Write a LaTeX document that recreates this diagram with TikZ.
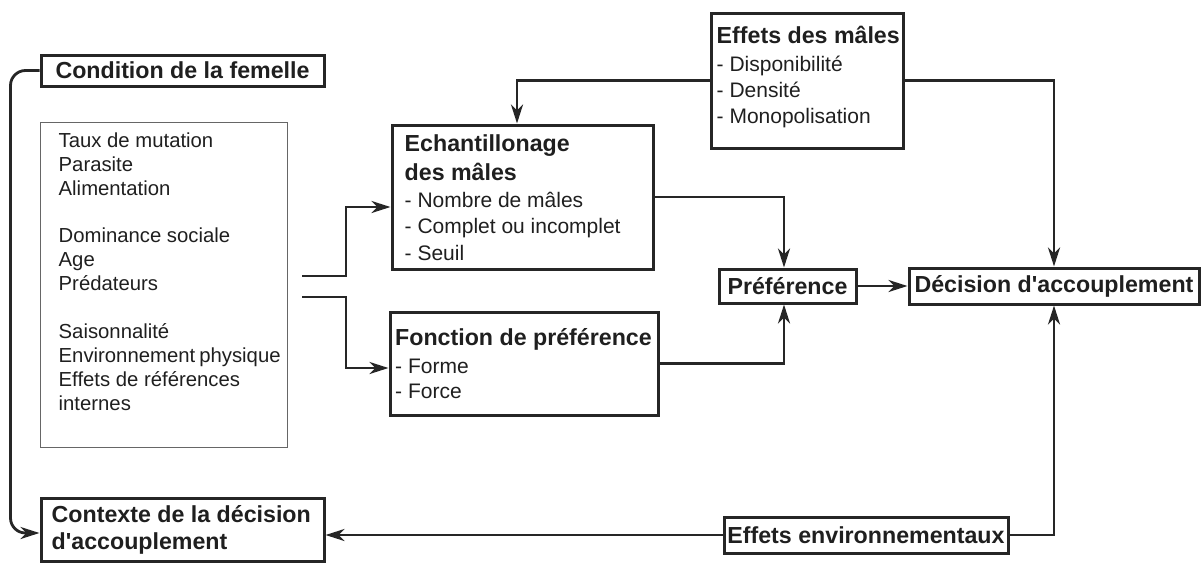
\documentclass[tikz,border=0pt]{standalone}
\usepackage{fontspec}
\setmainfont{Liberation Sans}
\usetikzlibrary{arrows.meta}
\newcommand\hdf{\fontsize{23.2}{30}\selectfont\bfseries}
\newcommand\hd[1]{{\hdf #1}}
\newcommand\apos{\textquotesingle}
\begin{document}
\begin{tikzpicture}[x=1pt,y=-1pt,
  box/.style={draw=black!85, line width=3pt, inner sep=0pt, text=black!88},
  thinbox/.style={draw=black!60, line width=1pt, inner sep=0pt},
  txt/.style={anchor=north west, align=left, inner sep=0pt, text=black!88},
  conn/.style={draw=black!85, line width=2.8pt, -{Stealth[length=19pt,width=12pt,inset=6pt]}}]
\useasboundingbox (0,0) rectangle (1201,563);
% boxes
\node[box, minimum width=283, minimum height=31, font=\hdf] (cf) at (182.5,70.5) {Condition de la femelle};
\node[thinbox, minimum width=247, minimum height=325] (bb) at (163.5,284.5) {};
\node[txt, font=\fontsize{20.3}{24}\selectfont] (bbt) at (58.5,132.5)
  {Taux de mutation\\Parasite\\Alimentation\\[23pt]Dominance sociale\\Age\\Prédateurs\\[24pt]Saisonnalité\\Environnement\hspace{-1.5pt} physique\\Effets de références\\internes};
\node[box, minimum width=283, minimum height=63] (ctx) at (182.5,529.5) {};
\node[txt, font=\fontsize{23.2}{27.5}\selectfont\bfseries] (ctxt) at (51.5,505)
  {Contexte de la décision\\d\apos accouplement};
\node[box, minimum width=261, minimum height=144] (ech) at (522.5,197) {};
\node[txt, font=\fontsize{21}{26.5}\selectfont] (echt) at (404.5,134.4)
  {\hd{Echantillonage}\\[2.5pt]\hd{des mâles}\\[0.5pt]- Nombre de mâles\\- Complet ou incomplet\\- Seuil};
\node[box, minimum width=268, minimum height=103] (fon) at (524,363.5) {};
\node[txt, font=\fontsize{21}{25}\selectfont] (font) at (395,328.4)
  {\hd{Fonction de préférence}\\[3pt]- Forme\\- Force};
\node[box, minimum width=192, minimum height=135] (em) at (807,80.5) {};
\node[txt, font=\fontsize{21}{26}\selectfont] (emt) at (716.5,26.4)
  {\hd{Effets des mâles}\\[2pt]- Disponibilité\\- Densité\\- Monopolisation};
\node[box, minimum width=137, minimum height=34, font=\hdf] (pref) at (787.5,286) {Préférence};
\node[box, minimum width=290, minimum height=36, font=\hdf] (dec) at (1054,286) {Décision d\apos accouplement};
\node[box, minimum width=284, minimum height=36, font=\hdf] (env) at (866,535) {Effets environnementaux};
% connectors
\coordinate (s1) at (302,276);
\coordinate (s2) at (302,297);
\draw[conn] (s1) -- (346,276) |- ([yshift=-10pt]ech.west);
\draw[conn] (s2) -- (346,297) |- ([yshift=-4.5pt]fon.west);
\draw[conn] (em.west) -| ([xshift=-5.5pt]ech.north);
\draw[conn] (em.east) -| (dec.north);
\draw[conn] (ech.east) -| ([xshift=-3.5pt]pref.north);
\draw[conn] (fon.east) -| ([xshift=-3.5pt]pref.south);
\draw[conn] (pref.east) -- (dec.west);
\draw[conn] (env.east) -| (dec.south);
\draw[conn] (env.west) -- (env.west -| ctx.east);
\draw[conn, rounded corners=15pt] (cf.west) -- ++(-29,0) |- ([yshift=-3.5pt]ctx.west);
\end{tikzpicture}
\end{document}
